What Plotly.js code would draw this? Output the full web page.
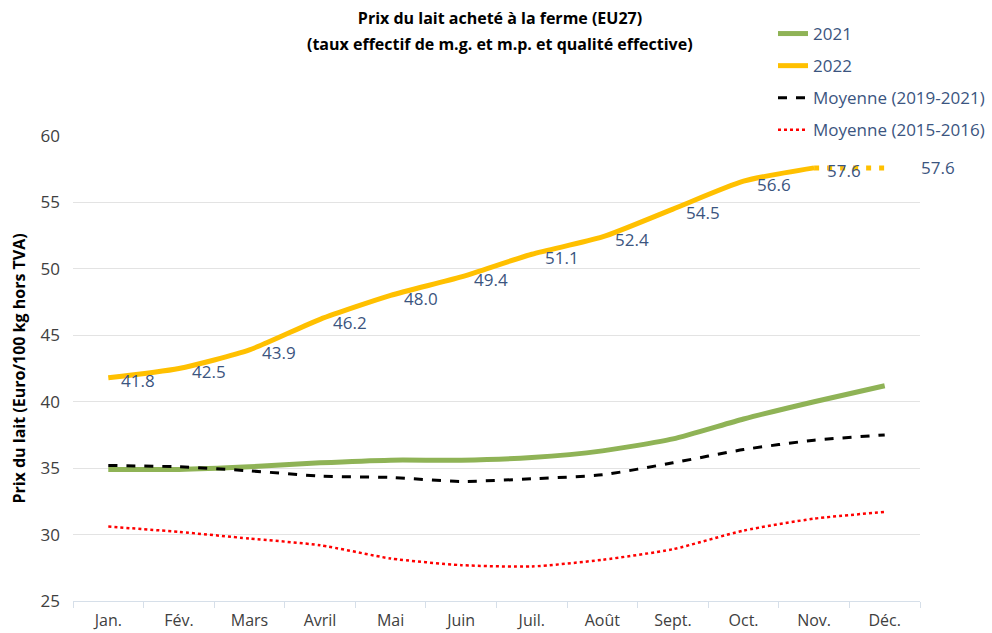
<!DOCTYPE html>
<html>
<head>
<meta charset="utf-8">
<script src="https://cdn.plot.ly/plotly-3.0.1.min.js"></script>
<style>html,body{margin:0;padding:0;background:#fff}#chart{width:992px;height:633px}</style>
</head>
<body>
<div id="chart"></div>
<script>
const months = ["Jan.","Fév.","Mars","Avril","Mai","Juin","Juil.","Août","Sept.","Oct.","Nov.","Déc."];
const y2021 = [34.9,34.9,35.1,35.4,35.6,35.6,35.8,36.3,37.2,38.7,40.0,41.2];
const y2022 = [41.8,42.5,43.9,46.2,48.0,49.4,51.1,52.4,54.5,56.6,57.6,null];
const y2022Projection = [null,null,null,null,null,null,null,null,null,null,57.6,57.6];
const avg2019_2021 = [35.2,35.1,34.8,34.4,34.3,34.0,34.2,34.5,35.4,36.4,37.1,37.5];
const avg2015_2016 = [30.6,30.2,29.7,29.2,28.2,27.7,27.6,28.1,28.9,30.3,31.2,31.7];
const yTicks = [25,30,35,40,45,50,55,60];

const labelColor = "#3b5580";
const fontFam = "Open Sans, Liberation Sans, sans-serif";

const traces = [
  {x: months, y: y2021, name: "2021", mode: "lines", legendgroup: "a",
   line: {color: "#8fb356", width: 5, shape: "spline", smoothing: 0.6}},
  {x: months, y: y2022Projection, name: "2022 (est.)", mode: "lines", showlegend: false, legendgroup: "b",
   line: {color: "#ffc000", width: 5, dash: "5px,8px"}},
  {x: months, y: y2022, name: "2022", mode: "lines", legendgroup: "b",
   line: {color: "#ffc000", width: 5, shape: "spline", smoothing: 0.6}},
  {x: months, y: avg2019_2021, name: "Moyenne (2019-2021)", mode: "lines", legendgroup: "c",
   line: {color: "#000000", width: 3, dash: "dash", shape: "spline", smoothing: 0.6}},
  {x: months, y: avg2015_2016, name: "Moyenne (2015-2016)", mode: "lines", legendgroup: "d",
   line: {color: "#ff0000", width: 2.5, dash: "dot", shape: "spline", smoothing: 0.6}}
];

const annotations = [];
y2022.forEach((v, i) => {
  if (v !== null) annotations.push({x: months[i], y: v, xref: "x", yref: "y", text: v.toFixed(1),
    showarrow: false, xanchor: "left", yanchor: "middle", xshift: 11, yshift: -3,
    font: {size: 17, color: labelColor, family: fontFam}});
});
y2022Projection.forEach((v, i) => {
  if (v !== null && i === y2022Projection.length - 1) annotations.push({x: months[i], y: v, xref: "x", yref: "y",
    text: v.toFixed(1), showarrow: false, xanchor: "left", yanchor: "middle", xshift: 34, yshift: 0,
    font: {size: 17, color: labelColor, family: fontFam}});
});
annotations.push({xref: "paper", yref: "paper", x: (500-73)/847, y: (601-44)/465, xanchor: "center", yanchor: "middle",
  text: "<b>(taux effectif de m.g. et m.p. et qualité effective)</b>", showarrow: false,
  font: {size: 16, color: "#000", family: fontFam}});

const layout = {
  width: 992, height: 633,
  margin: {l: 73, r: 72, t: 136, b: 32, autoexpand: false},
  paper_bgcolor: "#fff", plot_bgcolor: "#fff",
  title: {text: "<b>Prix du lait acheté à la ferme (EU27)</b>", x: 500/992, xanchor: "center",
    y: 1 - 18/633, yanchor: "middle", font: {size: 16, color: "#000", family: fontFam}},
  showlegend: true,
  legend: {x: (773-73)/847, y: (601-16)/465, xanchor: "left", yanchor: "top", tracegroupgap: 7,
    bgcolor: "rgba(0,0,0,0)", font: {size: 17, color: labelColor, family: fontFam}},
  xaxis: {type: "category", categoryarray: months, range: [-0.5, 11.5], showgrid: false,
    showline: true, linecolor: "#d6dfe9", linewidth: 1, ticks: "outside", tickson: "boundaries",
    ticklen: 6, tickcolor: "#d6dfe9", ticklabelstandoff: 5, automargin: false,
    tickfont: {size: 16, color: "#404040", family: fontFam}, fixedrange: true},
  yaxis: {range: [25, 60], tickvals: yTicks, showgrid: true, gridcolor: "#e3e3e3", gridwidth: 1,
    zeroline: false, showline: false, ticks: "", ticklabelstandoff: 12, automargin: false,
    tickfont: {size: 17, color: "#404040", family: fontFam},
    title: {text: "<b>Prix du lait (Euro/100 kg hors TVA)</b>", standoff: 10,
      font: {size: 16, color: "#000", family: fontFam}}},
  annotations: annotations
};

Plotly.newPlot("chart", traces, layout, {displayModeBar: false, staticPlot: true});
</script>
</body>
</html>
